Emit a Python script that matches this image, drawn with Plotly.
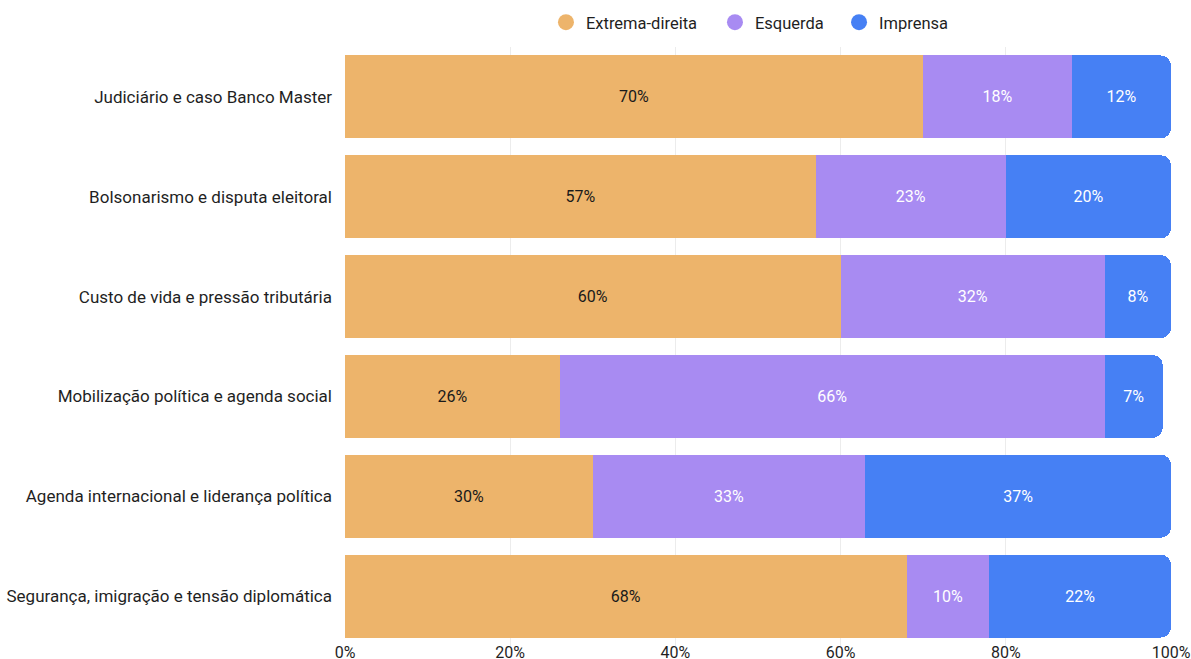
import plotly.graph_objects as go

categories = [
    "Judiciário e caso Banco Master",
    "Bolsonarismo e disputa eleitoral",
    "Custo de vida e pressão tributária",
    "Mobilização política e agenda social",
    "Agenda internacional e liderança política",
    "Segurança, imigração e tensão diplomática",
]
extrema_direita = [70, 57, 60, 26, 30, 68]
esquerda = [18, 23, 32, 66, 33, 10]
imprensa = [12, 20, 8, 7, 37, 22]
x_ticks = [0, 20, 40, 60, 80, 100]
x_tick_labels = ["0%", "20%", "40%", "60%", "80%", "100%"]

series = [
    ("Extrema-direita", extrema_direita, "#EDB46B", "#1a1a1a"),
    ("Esquerda", esquerda, "#A88BF2", "#ffffff"),
    ("Imprensa", imprensa, "#4680F4", "#ffffff"),
]

fig = go.Figure()
for name, vals, color, tcolor in series:
    fig.add_trace(go.Bar(
        y=categories, x=vals, name=name, orientation="h",
        marker=dict(color=color, line=dict(width=0)),
        text=[f"{v}%" for v in vals], textposition="inside",
        insidetextanchor="middle",
        textfont=dict(color=tcolor, size=16, family="Roboto"),
        hoverinfo="skip", showlegend=False,
    ))

# legend entries with circular markers, each in its own legend box
legend_ids = ["legend", "legend2", "legend3"]
legend_x = [0.2433, 0.4479, 0.5981]
for (name, vals, color, tcolor), lid in zip(series, legend_ids):
    fig.add_trace(go.Scatter(
        x=[None], y=[None], mode="markers", name=name, legend=lid,
        marker=dict(symbol="circle", size=17, color=color),
        showlegend=True, hoverinfo="skip",
    ))

legend_common = dict(orientation="h", xanchor="left", y=0.966, yanchor="middle",
                     yref="container", font=dict(size=16.5, color="#1f1f1f"),
                     itemsizing="trace", itemwidth=30, bgcolor="rgba(0,0,0,0)")

fig.update_layout(
    barmode="stack",
    bargap=0.17,
    barcornerradius=10,
    width=1191, height=659,
    margin=dict(l=345, r=20, t=47, b=13),
    paper_bgcolor="white", plot_bgcolor="white",
    font=dict(family="Roboto", size=17, color="#1f1f1f"),
    showlegend=True,
    legend=dict(x=legend_x[0], **legend_common),
    legend2=dict(x=legend_x[1], **legend_common),
    legend3=dict(x=legend_x[2], **legend_common),
    xaxis=dict(range=[0, 100], tickvals=x_ticks, ticktext=x_tick_labels,
               showgrid=True, gridcolor="#ececec", gridwidth=1, zeroline=False,
               showline=False, ticks="", automargin=False, ticklabelstandoff=-5,
               ticklabeloverflow="allow",
               tickfont=dict(size=16, color="#1f1f1f")),
    yaxis=dict(autorange="reversed", showgrid=False, ticks="", ticklabelstandoff=12,
               automargin=False, tickfont=dict(size=17, color="#1f1f1f")),
)

fig.write_html("out.html", config={"displayModeBar": False},
               post_script="document.body.style.margin='0';document.body.style.overflow='hidden';")
